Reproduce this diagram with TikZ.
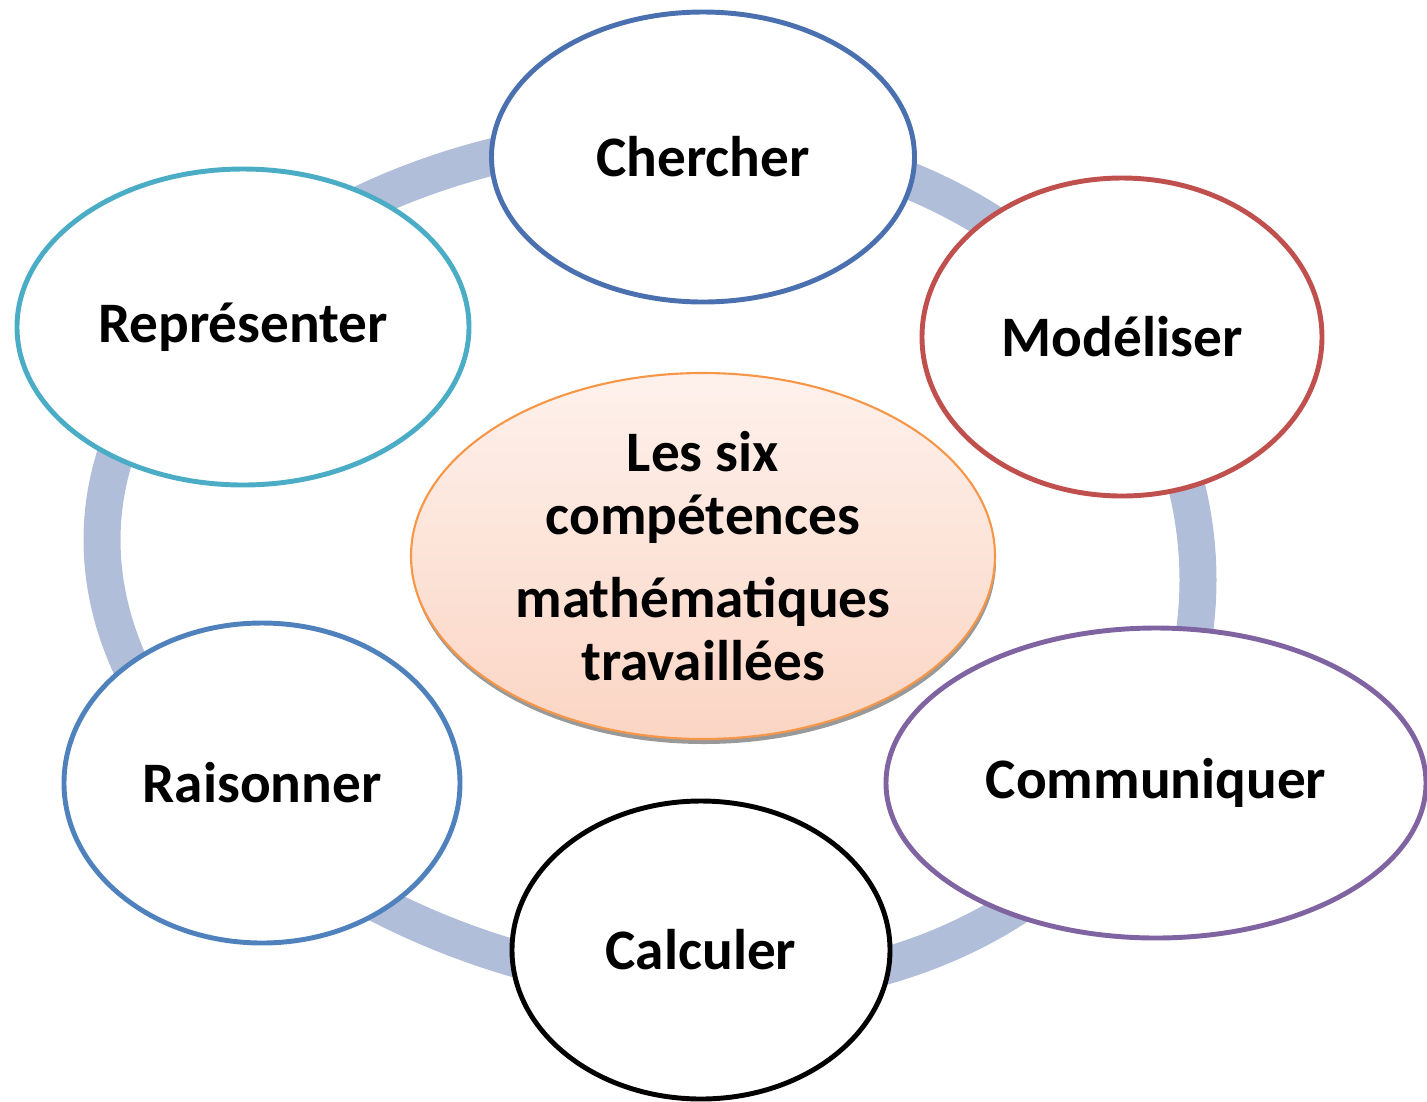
\documentclass[tikz,border=0pt]{standalone}
\usepackage{fontspec}
\setmainfont{Carlito}
\usetikzlibrary{shapes.geometric,shadows}

\definecolor{anneau}{HTML}{B0BEDA}
\definecolor{bleufonce}{HTML}{4A70B0}
\definecolor{bleu}{HTML}{4F81BD}
\definecolor{turquoise}{HTML}{4BACC6}
\definecolor{rouge}{HTML}{C0504D}
\definecolor{violet}{HTML}{8064A2}
\definecolor{orange}{HTML}{F79646}
\definecolor{saumonclair}{HTML}{FEF1EC}
\definecolor{saumon}{HTML}{FBD5C4}

\begin{document}
\begin{tikzpicture}[x=0.1mm, y=-0.1mm,
        competence/.style={ellipse, draw, line width=1.4pt, fill=white, inner sep=0pt,
            font=\bfseries\fontsize{16.3}{19}\selectfont}]
                \useasboundingbox (0,0) rectangle (1427,1101);

                \draw[anneau, line width=3.7mm] plot[smooth cycle, domain=0:357, samples=120]
                    ({650+548*cos(\x)}, {560+20*cos(\x)+(425+35*cos(\x))*sin(\x)});

                \node[competence, draw=bleufonce, minimum width=42.3mm, minimum height=29mm] (chercher) at (703,157) {Chercher};
                \node[competence, draw=rouge, minimum width=40mm, minimum height=31.8mm] (modeliser) at (1122,337) {Modéliser};
                \node[competence, draw=violet, minimum width=54mm, minimum height=31mm] (communiquer) at (1156,783) {Communiquer};
                \node[competence, draw=black, minimum width=37.8mm, minimum height=29.8mm] (calculer) at (701,950) {Calculer};
                \node[competence, draw=bleu, minimum width=39.6mm, minimum height=32mm] (raisonner) at (262,783) {Raisonner};
                \node[competence, draw=turquoise, minimum width=45.2mm, minimum height=31.6mm] (representer) at (243,327) {Représenter};

                \node[ellipse, draw=orange, line width=0.6pt, top color=saumonclair, bottom color=saumon,
                    minimum width=58.4mm, minimum height=36.6mm,
                    drop shadow={shadow xshift=0.1mm, shadow yshift=-0.5mm, fill=gray, opacity=0.8}] (centre) at (703,556) {};
                \node[align=center, font=\bfseries\fontsize{16.3}{18}\selectfont] (titre) at (centre)
                    {Les six\\compétences\\[5.4pt]mathématiques\\travaillées};
\end{tikzpicture}
\end{document}
